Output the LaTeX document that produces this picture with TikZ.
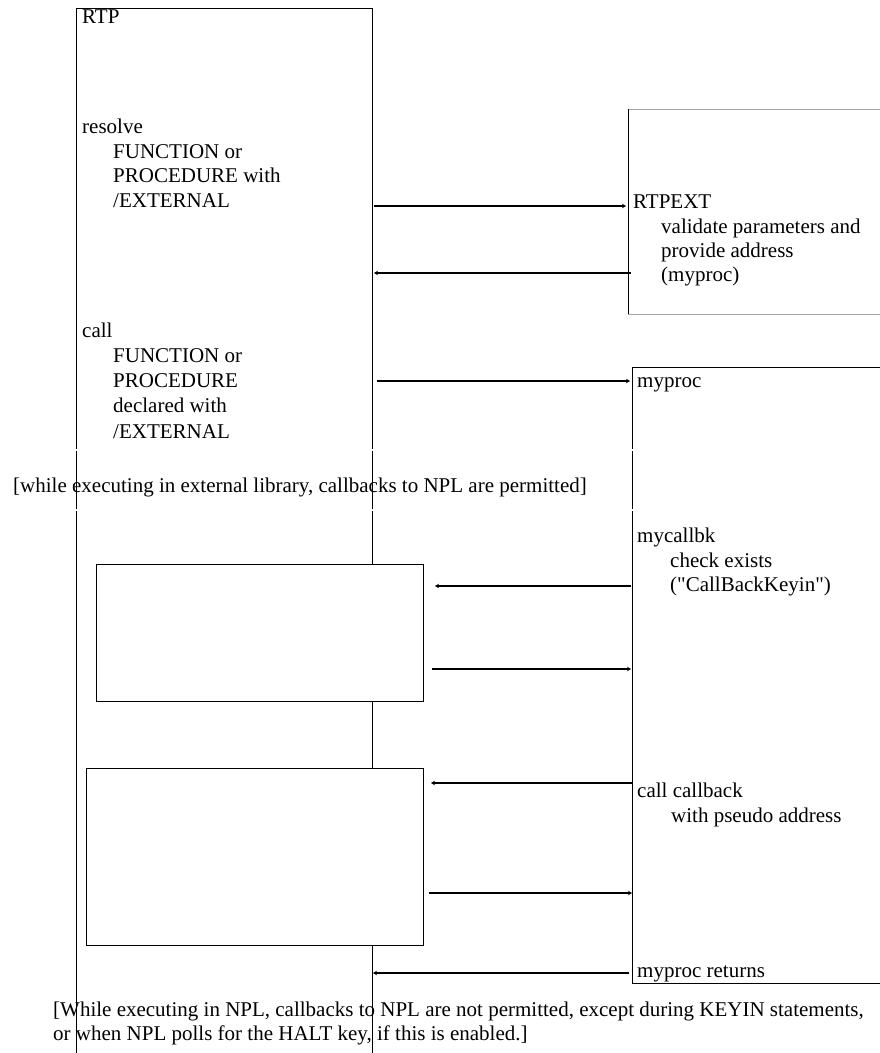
\documentclass[tikz,border=0pt]{standalone}
\usepackage{fontspec}
\setmainfont{Liberation Serif}[Ligatures=TeXOff]
\usetikzlibrary{arrows.meta}
\begin{document}
\begin{tikzpicture}[x=1pt,y=-1pt,
  lbl/.style={anchor=base west,inner sep=0pt,font=\fontsize{21}{25}\selectfont},
  life/.style={line width=1pt,line cap=butt},
  grayedge/.style={line width=1pt,draw=black!35},
  msg/.style={line width=1.8pt,-{Stealth[length=4pt,width=4.5pt]}},
  blankbox/.style={draw,line width=1pt,fill=white,rectangle,inner sep=0pt,anchor=north west}]
\useasboundingbox (0,0) rectangle (880,1053);
\fill[white] (0,0) rectangle (880,1053);
% lifelines
\draw[life] (76,8) -- (76,449) (76,451) -- (76,509) (76,511) -- (76,1053);
\draw[life] (372,8) -- (372,449) (372,451) -- (372,509) (372,511) -- (372,1053);
\draw[life] (76,8) -- (372,8);
% RTPEXT box
\draw[grayedge] (628,109) -- (880,109) (628,314) -- (880,314);
\draw[life] (628,109) -- (628,314);
% myproc box
\draw[life] (880,367) -- (632,367) -- (632,449) (632,451) -- (632,509) (632,511) -- (632,983) -- (880,983);
% blank boxes
\node[blankbox,minimum width=327pt,minimum height=137pt] (b1) at (96,564) {};
\node[blankbox,minimum width=337.5pt,minimum height=177pt] (b2) at (85.5,768) {};
% labels RTP
\node[lbl] (rtp) at (82,23) {RTP};
\node[lbl] (res) at (82,133) {resolve};
\node[lbl] (res1) at (113,158) {FUNCTION or};
\node[lbl] (res2) at (113,182.5) {PROCEDURE with};
\node[lbl] (res3) at (113,207) {/EXTERNAL};
\node[lbl] (call) at (82,337) {call};
\node[lbl] (call1) at (113,362) {FUNCTION or};
\node[lbl] (call2) at (113,387) {PROCEDURE};
\node[lbl] (call3) at (113,412.5) {declared with};
\node[lbl] (call4) at (113,438) {/EXTERNAL};
% RTPEXT
\node[lbl] (ext) at (633,208) {RTPEXT};
\node[lbl] (ext1) at (661,233) {validate parameters and};
\node[lbl] (ext2) at (661,257) {provide address};
\node[lbl] (ext3) at (661,281) {(myproc)};
% myproc
\node[lbl] (mp) at (637,387) {myproc};
\node[lbl] (cb) at (637,542) {mycallbk};
\node[lbl] (cb1) at (670,567) {check exists};
\node[lbl] (cb2) at (670,591) {("CallBackKeyin")};
\node[lbl] (cc) at (637,797) {call callback};
\node[lbl] (cc1) at (671,822) {with pseudo address};
\node[lbl] (ret) at (637,977) {myproc returns};
% notes
\node[lbl] (note1) at (13,492) {[while executing in external library, callbacks to NPL are permitted]};
\node[lbl] (note2) at (53,1016) {[While executing in NPL, callbacks to NPL are not permitted, except during KEYIN statements,};
\node[lbl] (note3) at (53,1040) {or when NPL polls for the HALT key, if this is enabled.]};
% message endpoints
\coordinate (a1s) at (374,206); \coordinate (a1e) at (626,206);
\coordinate (a2s) at (631,273); \coordinate (a2e) at (374,273);
\coordinate (a3s) at (377,381); \coordinate (a3e) at (630,381);
\coordinate (a4s) at (631,586); \coordinate (a4e) at (435,586);
\coordinate (a5s) at (432,669); \coordinate (a5e) at (631,669);
\coordinate (a6s) at (632,783); \coordinate (a6e) at (431,783);
\coordinate (a7s) at (429,893); \coordinate (a7e) at (632,893);
\coordinate (a8s) at (629,973); \coordinate (a8e) at (373,973);
\draw[msg] (a1s) -- (a1e);
\draw[msg] (a2s) -- (a2e);
\draw[msg] (a3s) -- (a3e);
\draw[msg] (a4s) -- (a4e);
\draw[msg] (a5s) -- (a5e);
\draw[msg] (a6s) -- (a6e);
\draw[msg] (a7s) -- (a7e);
\draw[msg] (a8s) -- (a8e);
\end{tikzpicture}
\end{document}
